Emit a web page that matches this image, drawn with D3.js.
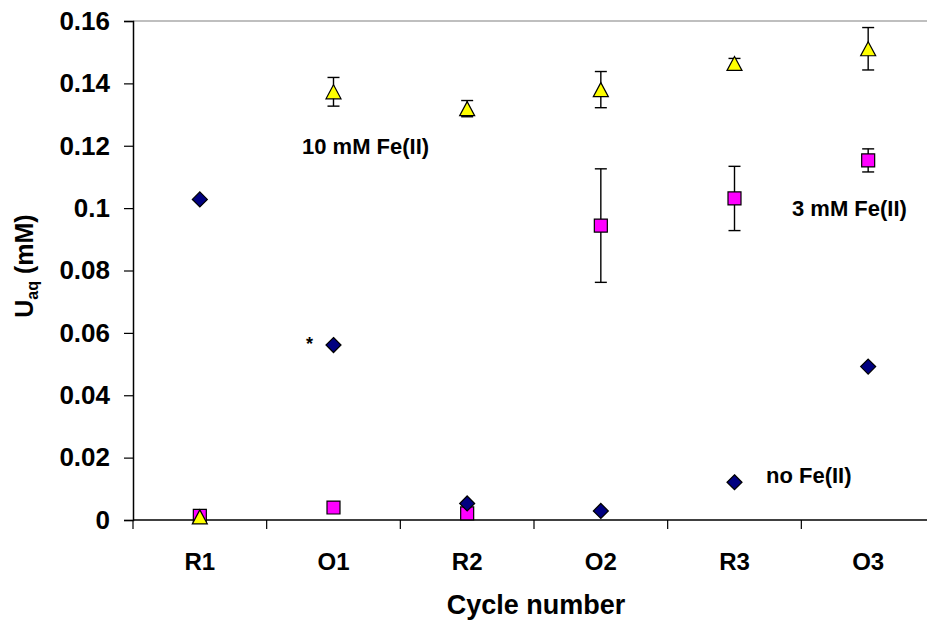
<!DOCTYPE html>
<html>
<head>
<meta charset="utf-8">
<script src="https://cdn.jsdelivr.net/npm/d3@7"></script>
<style>
  body { margin: 0; background: #fff; overflow: hidden; }
  text { font-family: Arial, 'Liberation Sans', sans-serif; font-weight: bold; fill: #000; }
</style>
</head>
<body>
<svg id="chart" width="927" height="621"></svg>
<script>
// values
var categories = ['R1', 'O1', 'R2', 'O2', 'R3', 'O3']
var noFe = [0.1028, 0.0561, 0.0053, 0.0029, 0.0121, 0.0492]
var fe3 = [0.0013, 0.0040, 0.0021, 0.0944, 0.1031, 0.1153]
var fe3Err = [0, 0, 0, 0.0182, 0.0103, 0.0037]
var fe10 = [0.0010, 0.1373, 0.1319, 0.1380, 0.1464, 0.1511]
var fe10Err = [0, 0.0046, 0.0026, 0.0058, 0.0016, 0.0068]
var yTicks = [0, 0.02, 0.04, 0.06, 0.08, 0.1, 0.12, 0.14, 0.16]

var svg = d3.select('#chart'),
  plotLeft = 133, plotRight = 935, plotTop = 21, plotBottom = 520

var x = d3.scalePoint().domain(categories).range([plotLeft, plotRight]).padding(0.5)
var y = d3.scaleLinear().domain([0, 0.16]).range([plotBottom, plotTop])
var step = x.step()

// plot border (top edge visible, right edge falls outside the picture)
svg.append('line').attr('x1', plotLeft).attr('x2', plotRight).attr('y1', plotTop).attr('y2', plotTop)
  .attr('stroke', '#808080').attr('stroke-width', 1.2)

// y axis
var yAxis = svg.append('g').attr('transform', 'translate(' + plotLeft + ',0)')
  .call(d3.axisLeft(y).tickValues(yTicks).tickSize(9).tickPadding(14)
    .tickFormat(function(d) { return d === 0 ? '0' : d3.format('.2~f')(d) }))
yAxis.select('.domain').attr('stroke', '#000').attr('stroke-width', 1.5)
yAxis.selectAll('.tick line').attr('stroke', '#000').attr('stroke-width', 1.2)
yAxis.selectAll('.tick text').attr('font-size', 26).attr('font-family', null)

// x axis
svg.append('line').attr('x1', plotLeft).attr('x2', plotRight).attr('y1', plotBottom).attr('y2', plotBottom)
  .attr('stroke', '#000').attr('stroke-width', 1.5)
svg.selectAll('.xtick')
  .data(categories)
  .enter().append('line')
  .attr('class', 'xtick')
  .attr('x1', function(d) { return x(d) - step / 2 })
  .attr('x2', function(d) { return x(d) - step / 2 })
  .attr('y1', plotBottom).attr('y2', plotBottom + 9)
  .attr('stroke', '#000').attr('stroke-width', 1.2)
svg.selectAll('.xlabel')
  .data(categories)
  .enter().append('text')
  .attr('class', 'xlabel')
  .attr('x', function(d) { return x(d) })
  .attr('y', 570)
  .attr('text-anchor', 'middle')
  .attr('font-size', 24)
  .text(function(d) { return d })

// axis titles
svg.append('text').attr('x', (plotLeft + plotRight) / 2 + 2).attr('y', 614)
  .attr('text-anchor', 'middle').attr('font-size', 27).text('Cycle number')

var yt = svg.append('text').attr('transform', 'translate(33,266) rotate(-90)')
  .attr('text-anchor', 'middle').attr('font-size', 25)
yt.append('tspan').text('U')
yt.append('tspan').attr('font-size', 16).attr('dy', 5).text('aq')
yt.append('tspan').attr('dy', -5).text(' (mM)')

// error bars
function errorBars(vals, errs) {
  var pts = categories.map(function(c, i) { return { c: c, v: vals[i], e: errs[i] } })
    .filter(function(d) { return d.e > 0 })
  var g = svg.append('g').attr('stroke', '#000').attr('stroke-width', 1.4)
  pts.forEach(function(d) {
    g.append('line').attr('x1', x(d.c)).attr('x2', x(d.c))
      .attr('y1', y(d.v - d.e)).attr('y2', y(d.v + d.e))
    g.append('line').attr('x1', x(d.c) - 6).attr('x2', x(d.c) + 6)
      .attr('y1', y(d.v - d.e)).attr('y2', y(d.v - d.e))
    g.append('line').attr('x1', x(d.c) - 6).attr('x2', x(d.c) + 6)
      .attr('y1', y(d.v + d.e)).attr('y2', y(d.v + d.e))
  })
}
errorBars(fe3, fe3Err)
errorBars(fe10, fe10Err)

// markers
function markers(vals, shape, fill) {
  svg.append('g').selectAll('path')
    .data(vals)
    .enter().append('path')
    .attr('transform', function(d, i) { return 'translate(' + x(categories[i]) + ',' + y(d) + ')' })
    .attr('d', shape)
    .attr('fill', fill)
    .attr('stroke', '#000')
    .attr('stroke-width', 1.2)
}
markers(fe3, 'M-6.5,-6.5H6.5V6.5H-6.5Z', '#ff00ff')
markers(fe10, 'M0,-7L7.5,7H-7.5Z', '#ffff00')
markers(noFe, 'M0,-7.5L7.5,0L0,7.5L-7.5,0Z', '#000080')

// annotations
svg.append('text').attr('x', 302).attr('y', 154).attr('font-size', 22).text('10 mM Fe(II)')
svg.append('text').attr('x', 792).attr('y', 216).attr('font-size', 22).text('3 mM Fe(II)')
svg.append('text').attr('x', 766).attr('y', 483).attr('font-size', 22).text('no Fe(II)')
svg.append('text').attr('x', 306).attr('y', 350).attr('font-size', 18).text('*')
</script>
</body>
</html>
